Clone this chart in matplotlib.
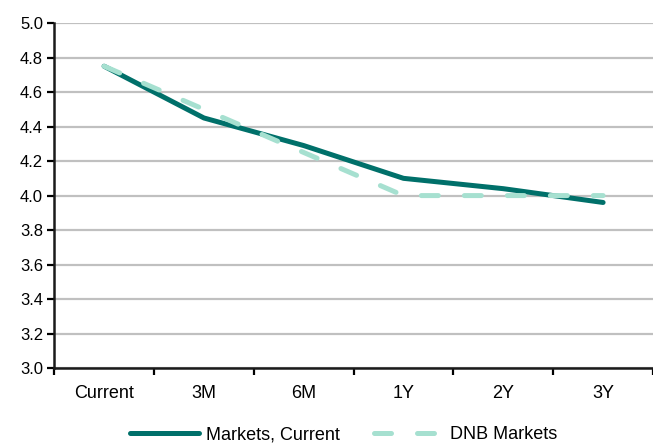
import matplotlib
matplotlib.use("Agg")
import matplotlib.pyplot as plt
import numpy as np

categories = ["Current", "3M", "6M", "1Y", "2Y", "3Y"]
markets_current = [4.75, 4.45, 4.29, 4.10, 4.04, 3.96]
dnb_markets = [4.75, 4.50, 4.25, 4.00, 4.00, 4.00]
y_ticks = [3.0, 3.2, 3.4, 3.6, 3.8, 4.0, 4.2, 4.4, 4.6, 4.8, 5.0]

plt.rcParams["font.family"] = ["Liberation Sans", "DejaVu Sans"]
plt.rcParams["font.size"] = 13

fig = plt.figure(figsize=(6.53, 4.44), dpi=100)
ax = fig.add_axes([0.083, 0.171, 0.917, 0.777])

x = np.arange(len(categories))
ax.plot(x, markets_current, color="#00706A", lw=3.6, solid_capstyle="round",
        solid_joinstyle="round", label="Markets, Current", zorder=3)
ax.plot(x, dnb_markets, color="#A6E0D0", lw=3.6, linestyle=(0, (3.4, 5.2)),
        dash_capstyle="round", label="DNB Markets", zorder=4)

ax.set_xlim(-0.5, len(categories) - 0.5)
ax.set_ylim(3.0, 5.0)
ax.set_yticks(y_ticks)
ax.set_yticklabels([f"{v:.1f}" for v in y_ticks], fontsize=12)
ax.yaxis.grid(True, color="#C0C0C0", lw=1.6)
ax.set_axisbelow(True)

# category labels centred between boundary ticks
ax.set_xticks(np.arange(len(categories) + 1) - 0.5)
ax.set_xticklabels([])
ax.set_xticks(x, minor=True)
ax.set_xticklabels(categories, minor=True, fontsize=13)
ax.tick_params(axis="x", which="minor", length=0, pad=12)
ax.tick_params(axis="x", which="major", length=5, width=1.6, direction="out")
ax.tick_params(axis="y", length=5, width=1.6, direction="out", pad=3)

for side in ["top", "right"]:
    ax.spines[side].set_visible(False)
for side in ["left", "bottom"]:
    ax.spines[side].set_linewidth(1.8)
    ax.spines[side].set_color("#1a1a1a")

fig.legend(loc="lower center", bbox_to_anchor=(0.526, -0.035), ncol=2,
           frameon=False, handlelength=3.8, columnspacing=1.9,
           handletextpad=0.4)

fig.savefig("out.png", dpi=100)
